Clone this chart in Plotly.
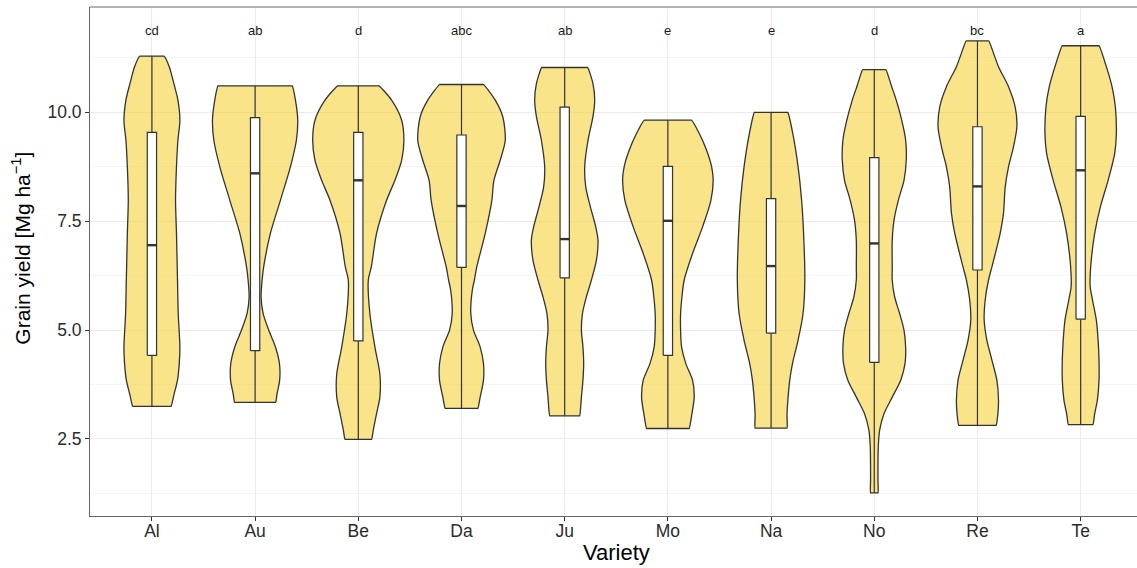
import plotly.graph_objects as go

varieties = ["Al", "Au", "Be", "Da", "Ju", "Mo", "Na", "No", "Re", "Te"]
letters = ["cd", "ab", "d", "abc", "ab", "e", "e", "d", "bc", "a"]

# box statistics (Mg ha-1)
y_min = [3.25, 3.34, 2.49, 3.20, 3.03, 2.74, 2.75, 1.26, 2.81, 2.83]
q1 = [4.42, 4.53, 4.75, 6.44, 6.20, 4.42, 4.93, 4.26, 6.38, 5.25]
median = [6.95, 8.60, 8.44, 7.85, 7.09, 7.51, 6.47, 6.99, 8.30, 8.67]
q3 = [9.54, 9.88, 9.54, 9.48, 10.12, 8.76, 8.02, 8.96, 9.67, 9.91]
y_max = [11.29, 10.61, 10.61, 10.64, 11.03, 9.82, 10.00, 10.98, 11.64, 11.53]

# violin density profiles: yield levels and half-widths (in category units)
al_y = [3.25, 3.54, 3.85, 4.23, 4.61, 5.38, 6.15, 7.22, 7.98, 8.75, 9.36, 9.82, 10.28, 10.66, 11.05, 11.29]
al_w = [0.186, 0.216, 0.248, 0.265, 0.271, 0.255, 0.248, 0.238, 0.229, 0.238, 0.252, 0.271, 0.252, 0.213, 0.168, 0.118]
au_y = [3.34, 3.54, 3.85, 4.23, 4.61, 5.00, 5.38, 5.76, 6.15, 6.45, 7.22, 7.98, 8.75, 9.36, 9.82, 10.28, 10.61]
au_w = [0.199, 0.213, 0.238, 0.236, 0.197, 0.132, 0.078, 0.058, 0.068, 0.083, 0.148, 0.245, 0.342, 0.400, 0.413, 0.391, 0.359]
be_y = [2.49, 2.70, 3.08, 3.46, 3.99, 4.61, 5.38, 6.15, 6.45, 7.22, 7.98, 8.44, 8.90, 9.36, 9.82, 10.28, 10.61]
be_w = [0.129, 0.145, 0.177, 0.209, 0.209, 0.161, 0.112, 0.097, 0.126, 0.177, 0.274, 0.355, 0.420, 0.442, 0.420, 0.323, 0.200]
da_y = [3.20, 3.46, 3.85, 4.23, 4.61, 5.00, 5.38, 5.92, 6.15, 6.45, 7.22, 7.98, 8.44, 8.90, 9.36, 9.90, 10.28, 10.64]
da_w = [0.158, 0.181, 0.213, 0.213, 0.181, 0.116, 0.090, 0.105, 0.125, 0.148, 0.230, 0.294, 0.314, 0.375, 0.424, 0.400, 0.327, 0.213]
ju_y = [3.03, 3.46, 3.85, 4.23, 4.61, 5.00, 5.38, 5.76, 6.15, 6.60, 7.06, 7.37, 7.83, 8.29, 8.75, 9.36, 9.90, 10.28, 10.66, 11.03]
ju_w = [0.145, 0.162, 0.177, 0.184, 0.177, 0.162, 0.172, 0.210, 0.259, 0.307, 0.323, 0.301, 0.249, 0.204, 0.194, 0.226, 0.274, 0.291, 0.274, 0.223]
mo_y = [2.74, 3.08, 3.46, 3.85, 4.23, 4.61, 5.00, 5.38, 5.76, 6.15, 6.76, 7.37, 7.98, 8.44, 8.75, 9.13, 9.52, 9.82]
mo_w = [0.206, 0.233, 0.255, 0.239, 0.174, 0.133, 0.123, 0.123, 0.136, 0.158, 0.239, 0.336, 0.417, 0.439, 0.424, 0.375, 0.303, 0.230]
na_y = [2.75, 3.08, 3.46, 3.85, 4.23, 4.77, 5.38, 6.15, 7.22, 7.98, 8.75, 9.52, 10.00]
na_w = [0.155, 0.155, 0.165, 0.181, 0.207, 0.262, 0.310, 0.327, 0.315, 0.296, 0.262, 0.210, 0.162]
no_y = [1.26, 1.55, 1.86, 2.32, 2.70, 3.08, 3.46, 3.85, 4.23, 4.61, 5.00, 5.38, 5.76, 6.15, 6.45, 7.06, 7.52, 7.98, 8.44, 8.90, 9.36, 9.82, 10.28, 10.59, 10.98]
no_w = [0.036, 0.036, 0.036, 0.039, 0.052, 0.094, 0.174, 0.256, 0.298, 0.304, 0.288, 0.246, 0.198, 0.174, 0.174, 0.174, 0.191, 0.233, 0.288, 0.310, 0.304, 0.266, 0.213, 0.169, 0.113]
re_y = [2.81, 3.08, 3.39, 3.85, 4.31, 4.77, 5.23, 5.69, 6.15, 6.45, 7.22, 7.68, 8.29, 8.75, 9.21, 9.67, 10.13, 10.59, 11.05, 11.64]
re_w = [0.181, 0.198, 0.204, 0.188, 0.140, 0.091, 0.065, 0.075, 0.107, 0.140, 0.220, 0.252, 0.269, 0.301, 0.349, 0.382, 0.365, 0.301, 0.204, 0.110]
te_y = [2.83, 3.08, 3.39, 3.85, 4.31, 4.77, 5.23, 5.69, 6.00, 6.45, 7.22, 7.83, 8.44, 9.06, 9.52, 10.13, 10.59, 11.05, 11.53]
te_w = [0.120, 0.136, 0.162, 0.178, 0.178, 0.169, 0.152, 0.115, 0.092, 0.097, 0.136, 0.191, 0.266, 0.330, 0.346, 0.336, 0.304, 0.249, 0.179]

y_ticks = [2.5, 5.0, 7.5, 10.0]
y_tick_text = ["2.5", "5.0", "7.5", "10.0"]
y_minor = [1.25, 3.75, 6.25, 8.75, 11.25]

profiles = [(al_y, al_w), (au_y, au_w), (be_y, be_w), (da_y, da_w), (ju_y, ju_w),
            (mo_y, mo_w), (na_y, na_w), (no_y, no_w), (re_y, re_w), (te_y, te_w)]

FILL = "rgba(245,210,60,0.6)"
EDGE = "#333333"
FONT = "Liberation Sans, Arial, sans-serif"
BOX_HALF = 0.045
EPS = 0.004  # keeps the flat ends of the spline outline straight

fig = go.Figure()

for i, (ys, ws) in enumerate(profiles):
    right = [i + w for w in ws]
    left = [i - w for w in ws[::-1]]
    xs = ([i + ws[0] - EPS] + right + [i + ws[-1] - EPS, i - ws[-1] + EPS]
          + left + [i - ws[0] + EPS, i + ws[0] - EPS])
    yy = ([ys[0]] + list(ys) + [ys[-1], ys[-1]]
          + list(ys[::-1]) + [ys[0], ys[0]])
    fig.add_trace(go.Scatter(
        x=xs, y=yy, mode="lines", fill="toself", fillcolor=FILL,
        line=dict(color=EDGE, width=1.3, shape="spline", smoothing=0.8),
        hoverinfo="skip", showlegend=False))

# whiskers (min..q1, q3..max)
wx, wy = [], []
for i in range(len(varieties)):
    wx += [i, i, None, i, i, None]
    wy += [y_min[i], q1[i], None, q3[i], y_max[i], None]
fig.add_trace(go.Scatter(x=wx, y=wy, mode="lines", line=dict(color=EDGE, width=1.2),
                         hoverinfo="skip", showlegend=False))

# boxes (q1..q3)
bx, by = [], []
for i in range(len(varieties)):
    bx += [i - BOX_HALF, i + BOX_HALF, i + BOX_HALF, i - BOX_HALF, i - BOX_HALF, None]
    by += [q1[i], q1[i], q3[i], q3[i], q1[i], None]
fig.add_trace(go.Scatter(x=bx, y=by, mode="lines", fill="toself", fillcolor="white",
                         line=dict(color=EDGE, width=1.2),
                         hoverinfo="skip", showlegend=False))

# medians
mx, my = [], []
for i, m in enumerate(median):
    mx += [i - BOX_HALF, i + BOX_HALF, None]
    my += [m, m, None]
fig.add_trace(go.Scatter(x=mx, y=my, mode="lines",
                         line=dict(color=EDGE, width=2.4),
                         hoverinfo="skip", showlegend=False))

annotations = []
for i, t in enumerate(letters):
    annotations.append(dict(x=i, y=11.89, xref="x", yref="y", text=t,
                            showarrow=False, font=dict(size=13, color="#1a1a1a", family=FONT)))
annotations.append(dict(x=0.503, y=-0.071, xref="paper", yref="paper", text="Variety",
                        showarrow=False, xanchor="center", yanchor="middle",
                        font=dict(size=22, color="black", family=FONT)))
annotations.append(dict(x=-0.066, y=0.527, xref="paper", yref="paper",
                        text="Grain yield [Mg ha<sup>\u22121</sup>]", textangle=-90,
                        showarrow=False, xanchor="center", yanchor="middle",
                        font=dict(size=21, color="black", family=FONT)))

fig.update_layout(
    width=1137, height=568,
    margin=dict(l=90, r=0, t=7, b=52),
    paper_bgcolor="white", plot_bgcolor="white",
    annotations=annotations,
    shapes=[dict(type="line", xref="paper", yref="paper", x0=0, x1=1, y0=1, y1=1,
                 line=dict(color="#666666", width=1))],
    xaxis=dict(range=[-0.6, 9.546], tickvals=list(range(len(varieties))), ticktext=varieties,
               showgrid=True, gridcolor="#EBEBEB", gridwidth=1, zeroline=False,
               showline=True, linecolor="#666666", linewidth=1,
               ticks="outside", ticklen=4, tickcolor="#333333",
               ticklabelstandoff=-5,
               tickfont=dict(size=17.5, color="#2b2b2b", family=FONT)),
    yaxis=dict(range=[0.73, 12.42], tickvals=y_ticks, ticktext=y_tick_text,
               showgrid=True, gridcolor="#EBEBEB", gridwidth=1, zeroline=False,
               showline=True, linecolor="#666666", linewidth=1,
               ticks="outside", ticklen=4, tickcolor="#333333",
               tickfont=dict(size=17.5, color="#2b2b2b", family=FONT),
               minor=dict(tickvals=y_minor, showgrid=True, gridcolor="#F4F4F4", gridwidth=0.8, ticks="")),
)

fig.write_html("out.html", config={"displayModeBar": False},
               post_script="document.body.style.margin='0';document.body.style.overflow='hidden';")
